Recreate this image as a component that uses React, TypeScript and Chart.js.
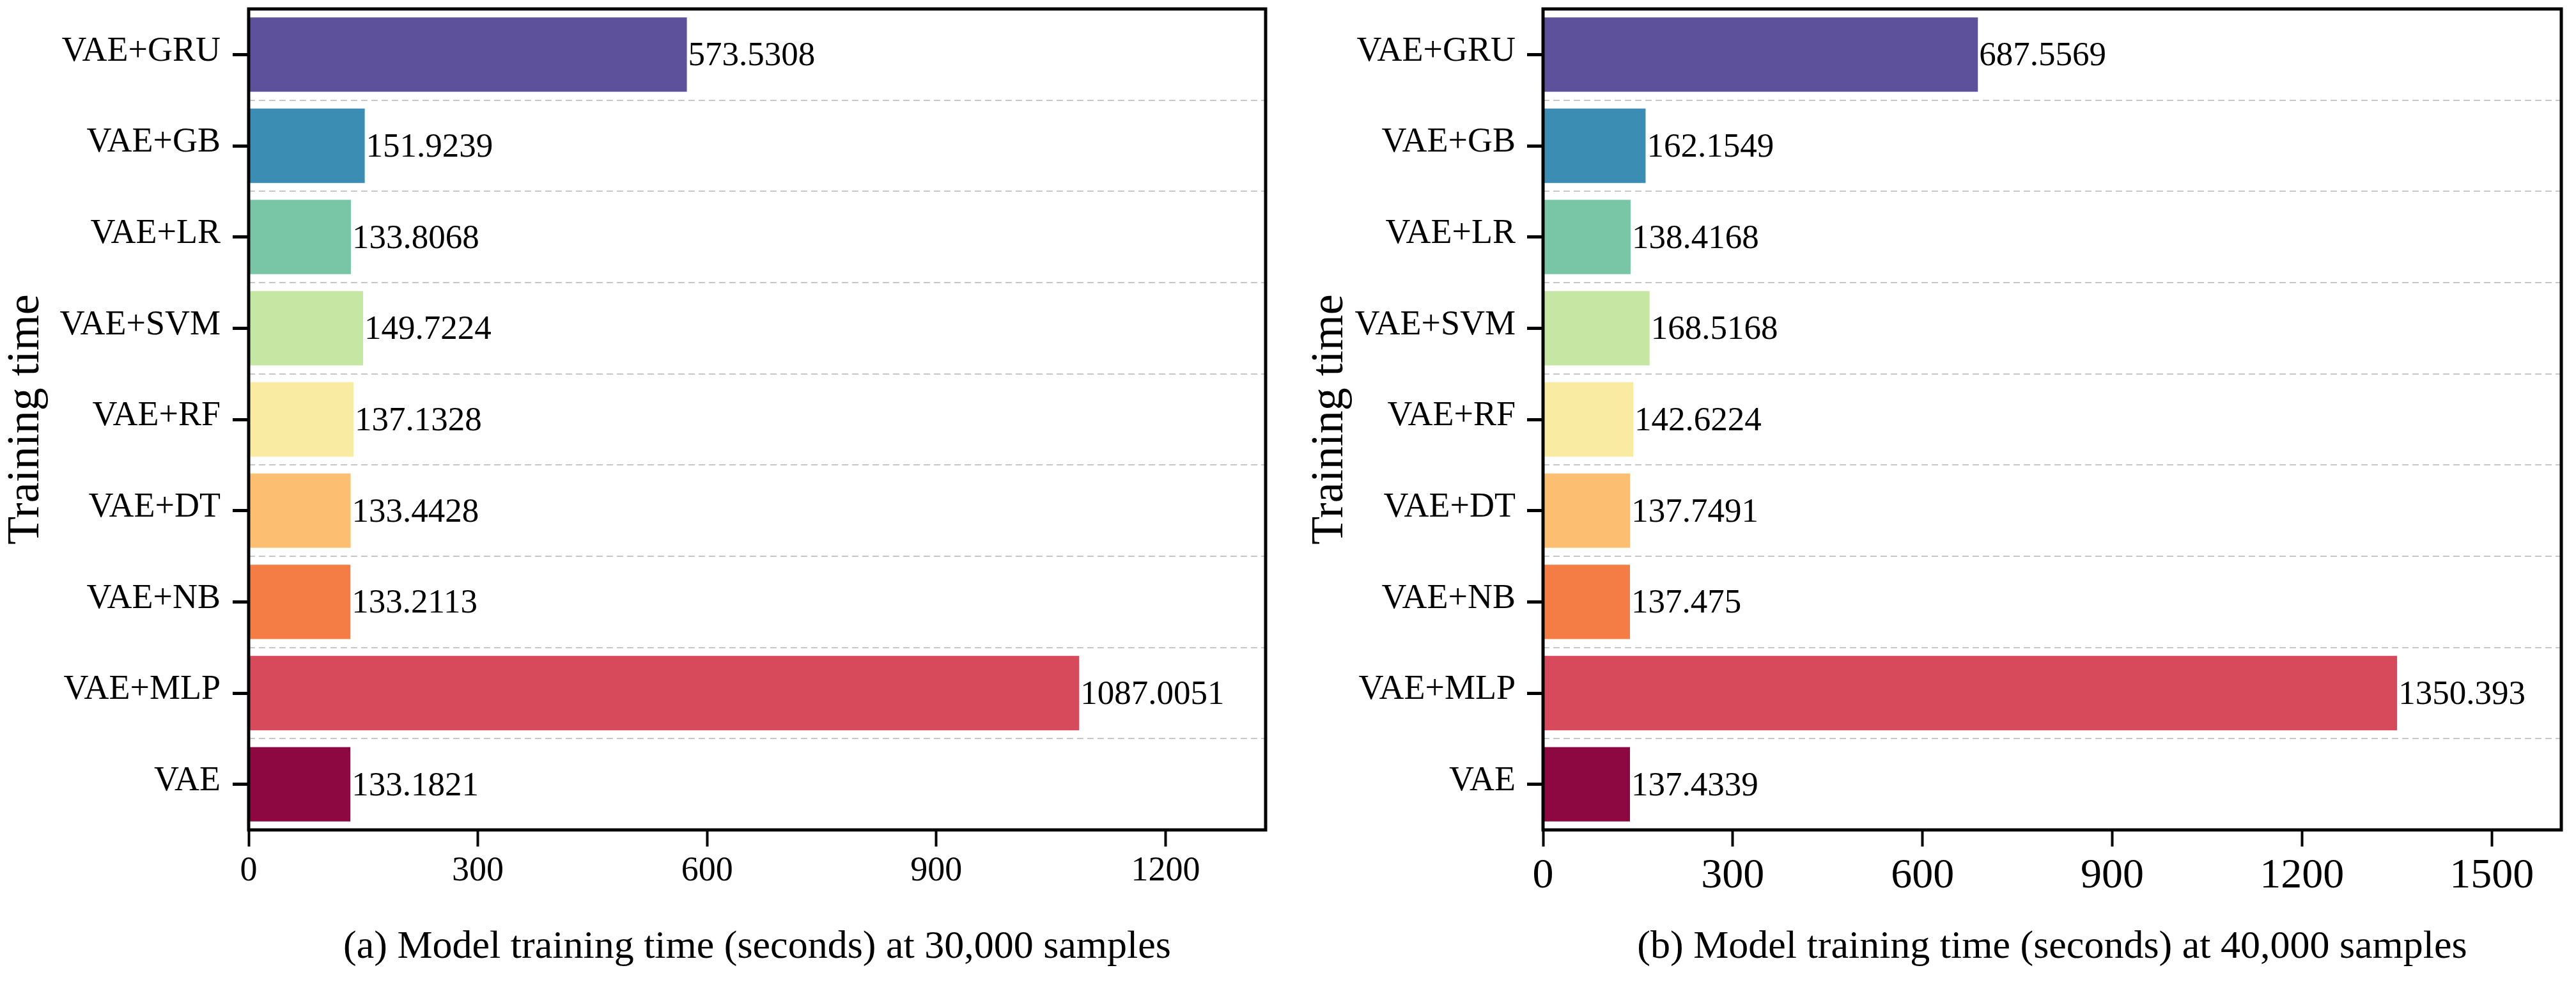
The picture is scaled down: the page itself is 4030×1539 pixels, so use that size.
import React, { useEffect, useRef } from 'react';
import { Chart, registerables } from 'chart.js';

Chart.register(...registerables);

// ---------- data ----------
const categories = ['VAE+GRU', 'VAE+GB', 'VAE+LR', 'VAE+SVM', 'VAE+RF', 'VAE+DT', 'VAE+NB', 'VAE+MLP', 'VAE'];
const valuesA = [573.5308, 151.9239, 133.8068, 149.7224, 137.1328, 133.4428, 133.2113, 1087.0051, 133.1821];
const valuesB = [687.5569, 162.1549, 138.4168, 168.5168, 142.6224, 137.7491, 137.475, 1350.393, 137.4339];
const barColors = ['#5e519b', '#3b8db4', '#78c6a6', '#c6e7a3', '#f9eba2', '#fcbf71', '#f47d46', '#d64a5b', '#8d0841'];
const xTicksA = [0, 300, 600, 900, 1200];
const xTicksB = [0, 300, 600, 900, 1200, 1500];
const xMaxA = 1331;
const xMaxB = 1610;
const captionA = '(a) Model training time (seconds) at 30,000 samples';
const captionB = '(b) Model training time (seconds) at 40,000 samples';
const yTitle = 'Training time';

const FONT = '"Liberation Serif", "Times New Roman", serif';

const framePlugin = {
  id: 'frame',
  afterDraw(chart: any) {
    const { ctx, chartArea } = chart;
    const { left, top, right, bottom } = chartArea;
    ctx.save();
    ctx.lineWidth = 5;
    ctx.strokeStyle = '#000';
    ctx.strokeRect(left, top, right - left, bottom - top);
    ctx.restore();
  },
};

const valueLabelPlugin = {
  id: 'valueLabels',
  afterDatasetsDraw(chart: any) {
    const ctx = chart.ctx;
    const meta = chart.getDatasetMeta(0);
    const data = chart.data.datasets[0].data;
    ctx.save();
    ctx.font = `53px ${FONT}`;
    ctx.fillStyle = '#000';
    ctx.textAlign = 'left';
    ctx.textBaseline = 'middle';
    meta.data.forEach((el: any, i: number) => {
      ctx.fillText(String(data[i]), el.x + 2, el.y + 3);
    });
    ctx.restore();
  },
};

type Panel = {
  values: number[];
  ticks: number[];
  max: number;
  caption: string;
  yWidth: number;
  padRight: number;
  yTitlePad: number;
  xTickSize: number;
  xTickPad: number;
  yTickPad: number;
};

function makeConfig(p: Panel): any {
  return {
    type: 'bar',
    data: {
      labels: categories,
      datasets: [
        {
          data: p.values,
          backgroundColor: barColors,
          borderWidth: 0,
          barPercentage: 0.815,
          categoryPercentage: 1,
          xAxisID: 'x',
          yAxisID: 'y',
        },
      ],
    },
    options: {
      indexAxis: 'y',
      animation: false,
      responsive: true,
      maintainAspectRatio: false,
      layout: { padding: { top: 14, right: p.padRight, bottom: 0, left: 0 } },
      plugins: { legend: { display: false }, tooltip: { enabled: false } },
      scales: {
        x: {
          type: 'linear',
          position: 'bottom',
          min: 0,
          max: p.max,
          afterBuildTicks: (scale: any) => {
            scale.ticks = p.ticks.map((v) => ({ value: v }));
          },
          afterFit: (scale: any) => {
            scale.height = 241;
            scale.paddingLeft = 0;
            scale.paddingRight = 0;
          },
          grid: {
            display: true,
            drawOnChartArea: false,
            drawTicks: true,
            tickLength: 26,
            tickWidth: 4,
            tickColor: '#000',
          },
          border: { display: false },
          ticks: {
            color: '#000',
            padding: p.xTickPad,
            maxRotation: 0,
            font: { family: FONT, size: p.xTickSize },
            callback: (v: any) => String(v),
          },
          title: {
            display: true,
            text: p.caption,
            color: '#000',
            font: { family: FONT, size: 62, lineHeight: 1 },
            padding: { top: 0, bottom: 26 },
          },
        },
        y: {
          type: 'category',
          position: 'left',
          offset: true,
          afterFit: (scale: any) => {
            scale.width = p.yWidth;
            scale.paddingTop = 0;
            scale.paddingBottom = 0;
          },
          grid: {
            display: true,
            offset: false,
            drawOnChartArea: false,
            drawTicks: true,
            tickLength: 25,
            tickWidth: 5,
            tickColor: '#000',
          },
          border: { display: false },
          ticks: {
            color: '#000',
            padding: p.yTickPad,
            labelOffset: -5,
            font: { family: FONT, size: 54 },
          },
          title: {
            display: true,
            text: yTitle,
            color: '#000',
            font: { family: FONT, size: 72, lineHeight: 1 },
            padding: { top: p.yTitlePad, bottom: 0 },
          },
        },
        yGrid: {
          type: 'category',
          position: 'left',
          labels: categories,
          offset: true,
          afterFit: (scale: any) => {
            scale.width = 0;
            scale.paddingTop = 0;
            scale.paddingBottom = 0;
          },
          grid: {
            display: true,
            offset: true,
            drawOnChartArea: true,
            drawTicks: false,
            color: '#c8c8c8',
            lineWidth: 2,
          },
          border: { display: false, dash: [10, 6] },
          ticks: { display: false },
        },
      },
    },
    plugins: [valueLabelPlugin, framePlugin],
  };
}

const panelA: Panel = {
  values: valuesA,
  ticks: xTicksA,
  max: xMaxA,
  caption: captionA,
  yWidth: 389,
  padRight: 35,
  yTitlePad: 5,
  xTickSize: 54,
  xTickPad: 6,
  yTickPad: 19,
};

const panelB: Panel = {
  values: valuesB,
  ticks: xTicksB,
  max: xMaxB,
  caption: captionB,
  yWidth: 399,
  padRight: 23,
  yTitlePad: 30,
  xTickSize: 66,
  xTickPad: 7,
  yTickPad: 18,
};

function BarPanel({ panel, left }: { panel: Panel; left: number }) {
  const ref = useRef<HTMLCanvasElement | null>(null);
  useEffect(() => {
    if (!ref.current) return;
    const chart = new Chart(ref.current, makeConfig(panel));
    return () => chart.destroy();
  }, [panel]);
  return (
    <div style={{ position: 'absolute', left, top: 0, width: 2015, height: 1539 }}>
      <canvas ref={ref} />
    </div>
  );
}

export default function App() {
  return (
    <div style={{ position: 'fixed', left: 0, top: 0, width: 4030, height: 1539, background: '#fff' }}>
      <BarPanel panel={panelA} left={0} />
      <BarPanel panel={panelB} left={2015} />
    </div>
  );
}
